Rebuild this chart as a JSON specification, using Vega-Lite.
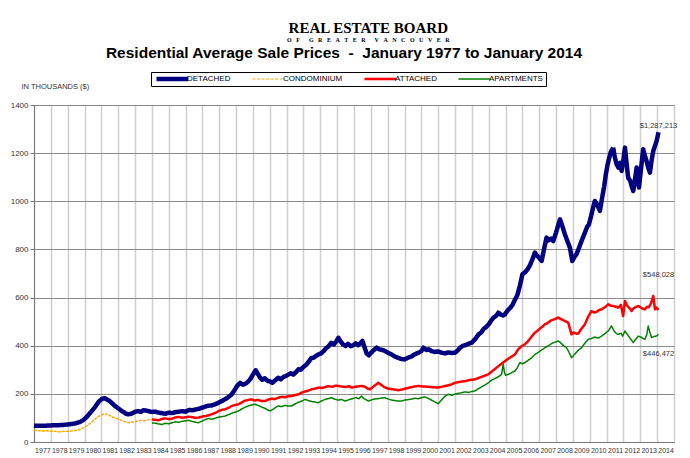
{
  "$schema": "https://vega.github.io/schema/vega-lite/v6.json",
  "background": "white",
  "padding": {"left": 9, "top": 21, "right": 4, "bottom": 4},
  "title": {
    "text": "REAL ESTATE BOARD",
    "subtitle": "O\u00a0\u00a0\u00a0F\u00a0\u00a0\u00a0\u00a0\u00a0\u00a0G\u00a0\u00a0\u00a0R\u00a0\u00a0\u00a0E\u00a0\u00a0\u00a0A\u00a0\u00a0\u00a0T\u00a0\u00a0\u00a0E\u00a0\u00a0\u00a0R\u00a0\u00a0\u00a0\u00a0\u00a0\u00a0V\u00a0\u00a0\u00a0A\u00a0\u00a0\u00a0N\u00a0\u00a0\u00a0C\u00a0\u00a0\u00a0O\u00a0\u00a0\u00a0U\u00a0\u00a0\u00a0V\u00a0\u00a0\u00a0E\u00a0\u00a0\u00a0R",
    "font": "Liberation Serif",
    "fontSize": 15,
    "fontWeight": "bold",
    "color": "#000",
    "subtitleFont": "Liberation Serif",
    "subtitleFontSize": 6,
    "subtitleFontWeight": "bold",
    "subtitleColor": "#000",
    "subtitlePadding": 1,
    "anchor": "middle",
    "offset": 2,
    "dx": 22
  },
  "spacing": 0,
  "datasets": {
    "labels": [
      {"series": "DETACHED", "year": 2014.08, "price": 1287, "label": "$1,287,213"},
      {"series": "ATTACHED", "year": 2014.08, "price": 548, "label": "$548,028"},
      {"series": "APARTMENTS", "year": 2014.08, "price": 447, "label": "$446,472"}
    ],
    "prices": [
      {"series":"DETACHED","year":1977.0,"price":68},{"series":"DETACHED","year":1977.25,"price":67},{"series":"DETACHED","year":1977.5,"price":67},{"series":"DETACHED","year":1977.75,"price":68},{"series":"DETACHED","year":1978.0,"price":69},{"series":"DETACHED","year":1978.25,"price":70},{"series":"DETACHED","year":1978.5,"price":70},{"series":"DETACHED","year":1978.75,"price":71},{"series":"DETACHED","year":1979.0,"price":73},{"series":"DETACHED","year":1979.25,"price":75},{"series":"DETACHED","year":1979.5,"price":78},{"series":"DETACHED","year":1979.75,"price":84},{"series":"DETACHED","year":1979.9,"price":90},{"series":"DETACHED","year":1980.1,"price":102},{"series":"DETACHED","year":1980.3,"price":118},{"series":"DETACHED","year":1980.6,"price":143},{"series":"DETACHED","year":1980.85,"price":168},{"series":"DETACHED","year":1981.05,"price":180},{"series":"DETACHED","year":1981.2,"price":182},{"series":"DETACHED","year":1981.35,"price":176},{"series":"DETACHED","year":1981.5,"price":170},{"series":"DETACHED","year":1981.65,"price":160},{"series":"DETACHED","year":1981.8,"price":150},{"series":"DETACHED","year":1982.0,"price":140},{"series":"DETACHED","year":1982.15,"price":132},{"series":"DETACHED","year":1982.3,"price":125},{"series":"DETACHED","year":1982.45,"price":118},{"series":"DETACHED","year":1982.6,"price":115},{"series":"DETACHED","year":1982.8,"price":118},{"series":"DETACHED","year":1983.0,"price":126},{"series":"DETACHED","year":1983.2,"price":128},{"series":"DETACHED","year":1983.35,"price":125},{"series":"DETACHED","year":1983.5,"price":132},{"series":"DETACHED","year":1983.7,"price":130},{"series":"DETACHED","year":1983.85,"price":127},{"series":"DETACHED","year":1984.0,"price":125},{"series":"DETACHED","year":1984.2,"price":126},{"series":"DETACHED","year":1984.4,"price":122},{"series":"DETACHED","year":1984.6,"price":120},{"series":"DETACHED","year":1984.8,"price":117},{"series":"DETACHED","year":1985.0,"price":122},{"series":"DETACHED","year":1985.2,"price":120},{"series":"DETACHED","year":1985.4,"price":124},{"series":"DETACHED","year":1985.6,"price":126},{"series":"DETACHED","year":1985.8,"price":128},{"series":"DETACHED","year":1986.0,"price":126},{"series":"DETACHED","year":1986.2,"price":133},{"series":"DETACHED","year":1986.4,"price":132},{"series":"DETACHED","year":1986.6,"price":135},{"series":"DETACHED","year":1986.8,"price":138},{"series":"DETACHED","year":1987.0,"price":143},{"series":"DETACHED","year":1987.3,"price":150},{"series":"DETACHED","year":1987.55,"price":152},{"series":"DETACHED","year":1987.8,"price":158},{"series":"DETACHED","year":1988.0,"price":165},{"series":"DETACHED","year":1988.15,"price":170},{"series":"DETACHED","year":1988.3,"price":176},{"series":"DETACHED","year":1988.45,"price":182},{"series":"DETACHED","year":1988.6,"price":190},{"series":"DETACHED","year":1988.74,"price":198},{"series":"DETACHED","year":1988.9,"price":215},{"series":"DETACHED","year":1989.05,"price":232},{"series":"DETACHED","year":1989.24,"price":246},{"series":"DETACHED","year":1989.4,"price":238},{"series":"DETACHED","year":1989.55,"price":242},{"series":"DETACHED","year":1989.7,"price":250},{"series":"DETACHED","year":1989.85,"price":262},{"series":"DETACHED","year":1990.0,"price":280},{"series":"DETACHED","year":1990.16,"price":298},{"series":"DETACHED","year":1990.3,"price":282},{"series":"DETACHED","year":1990.42,"price":268},{"series":"DETACHED","year":1990.55,"price":258},{"series":"DETACHED","year":1990.7,"price":265},{"series":"DETACHED","year":1990.85,"price":255},{"series":"DETACHED","year":1991.0,"price":252},{"series":"DETACHED","year":1991.15,"price":246},{"series":"DETACHED","year":1991.3,"price":255},{"series":"DETACHED","year":1991.5,"price":267},{"series":"DETACHED","year":1991.65,"price":260},{"series":"DETACHED","year":1991.8,"price":270},{"series":"DETACHED","year":1991.95,"price":274},{"series":"DETACHED","year":1992.1,"price":280},{"series":"DETACHED","year":1992.25,"price":286},{"series":"DETACHED","year":1992.4,"price":280},{"series":"DETACHED","year":1992.55,"price":290},{"series":"DETACHED","year":1992.7,"price":302},{"series":"DETACHED","year":1992.85,"price":300},{"series":"DETACHED","year":1993.0,"price":312},{"series":"DETACHED","year":1993.15,"price":320},{"series":"DETACHED","year":1993.3,"price":332},{"series":"DETACHED","year":1993.45,"price":348},{"series":"DETACHED","year":1993.6,"price":350},{"series":"DETACHED","year":1993.75,"price":358},{"series":"DETACHED","year":1993.9,"price":364},{"series":"DETACHED","year":1994.05,"price":368},{"series":"DETACHED","year":1994.2,"price":378},{"series":"DETACHED","year":1994.35,"price":390},{"series":"DETACHED","year":1994.5,"price":398},{"series":"DETACHED","year":1994.65,"price":412},{"series":"DETACHED","year":1994.8,"price":405},{"series":"DETACHED","year":1994.95,"price":418},{"series":"DETACHED","year":1995.07,"price":433},{"series":"DETACHED","year":1995.2,"price":418},{"series":"DETACHED","year":1995.35,"price":405},{"series":"DETACHED","year":1995.5,"price":399},{"series":"DETACHED","year":1995.65,"price":408},{"series":"DETACHED","year":1995.8,"price":398},{"series":"DETACHED","year":1995.95,"price":402},{"series":"DETACHED","year":1996.1,"price":410},{"series":"DETACHED","year":1996.25,"price":402},{"series":"DETACHED","year":1996.4,"price":412},{"series":"DETACHED","year":1996.5,"price":420},{"series":"DETACHED","year":1996.62,"price":395},{"series":"DETACHED","year":1996.75,"price":368},{"series":"DETACHED","year":1996.88,"price":360},{"series":"DETACHED","year":1997.0,"price":370},{"series":"DETACHED","year":1997.15,"price":380},{"series":"DETACHED","year":1997.35,"price":392},{"series":"DETACHED","year":1997.5,"price":385},{"series":"DETACHED","year":1997.7,"price":382},{"series":"DETACHED","year":1997.85,"price":378},{"series":"DETACHED","year":1998.0,"price":371},{"series":"DETACHED","year":1998.2,"price":365},{"series":"DETACHED","year":1998.4,"price":356},{"series":"DETACHED","year":1998.6,"price":350},{"series":"DETACHED","year":1998.8,"price":345},{"series":"DETACHED","year":1999.0,"price":343},{"series":"DETACHED","year":1999.2,"price":350},{"series":"DETACHED","year":1999.4,"price":355},{"series":"DETACHED","year":1999.6,"price":364},{"series":"DETACHED","year":1999.8,"price":370},{"series":"DETACHED","year":2000.0,"price":378},{"series":"DETACHED","year":2000.12,"price":392},{"series":"DETACHED","year":2000.3,"price":382},{"series":"DETACHED","year":2000.45,"price":385},{"series":"DETACHED","year":2000.6,"price":378},{"series":"DETACHED","year":2000.8,"price":374},{"series":"DETACHED","year":2001.0,"price":376},{"series":"DETACHED","year":2001.2,"price":371},{"series":"DETACHED","year":2001.4,"price":368},{"series":"DETACHED","year":2001.6,"price":372},{"series":"DETACHED","year":2001.8,"price":370},{"series":"DETACHED","year":2002.0,"price":371},{"series":"DETACHED","year":2002.15,"price":380},{"series":"DETACHED","year":2002.3,"price":392},{"series":"DETACHED","year":2002.45,"price":399},{"series":"DETACHED","year":2002.6,"price":402},{"series":"DETACHED","year":2002.8,"price":408},{"series":"DETACHED","year":2003.0,"price":413},{"series":"DETACHED","year":2003.2,"price":428},{"series":"DETACHED","year":2003.4,"price":447},{"series":"DETACHED","year":2003.55,"price":455},{"series":"DETACHED","year":2003.7,"price":470},{"series":"DETACHED","year":2003.85,"price":478},{"series":"DETACHED","year":2004.0,"price":489},{"series":"DETACHED","year":2004.15,"price":505},{"series":"DETACHED","year":2004.3,"price":518},{"series":"DETACHED","year":2004.45,"price":525},{"series":"DETACHED","year":2004.57,"price":537},{"series":"DETACHED","year":2004.7,"price":530},{"series":"DETACHED","year":2004.85,"price":526},{"series":"DETACHED","year":2004.96,"price":530},{"series":"DETACHED","year":2005.1,"price":545},{"series":"DETACHED","year":2005.25,"price":555},{"series":"DETACHED","year":2005.4,"price":568},{"series":"DETACHED","year":2005.55,"price":590},{"series":"DETACHED","year":2005.7,"price":610},{"series":"DETACHED","year":2005.85,"price":650},{"series":"DETACHED","year":2006.0,"price":697},{"series":"DETACHED","year":2006.15,"price":705},{"series":"DETACHED","year":2006.3,"price":717},{"series":"DETACHED","year":2006.45,"price":735},{"series":"DETACHED","year":2006.6,"price":760},{"series":"DETACHED","year":2006.74,"price":787},{"series":"DETACHED","year":2006.85,"price":775},{"series":"DETACHED","year":2007.0,"price":765},{"series":"DETACHED","year":2007.14,"price":752},{"series":"DETACHED","year":2007.28,"price":800},{"series":"DETACHED","year":2007.43,"price":849},{"series":"DETACHED","year":2007.55,"price":838},{"series":"DETACHED","year":2007.7,"price":845},{"series":"DETACHED","year":2007.83,"price":835},{"series":"DETACHED","year":2008.0,"price":870},{"series":"DETACHED","year":2008.12,"price":900},{"series":"DETACHED","year":2008.23,"price":925},{"series":"DETACHED","year":2008.38,"price":895},{"series":"DETACHED","year":2008.52,"price":863},{"series":"DETACHED","year":2008.67,"price":835},{"series":"DETACHED","year":2008.82,"price":807},{"series":"DETACHED","year":2008.96,"price":752},{"series":"DETACHED","year":2009.1,"price":770},{"series":"DETACHED","year":2009.21,"price":780},{"series":"DETACHED","year":2009.35,"price":805},{"series":"DETACHED","year":2009.51,"price":835},{"series":"DETACHED","year":2009.7,"price":868},{"series":"DETACHED","year":2009.85,"price":895},{"series":"DETACHED","year":2009.95,"price":904},{"series":"DETACHED","year":2010.1,"price":945},{"series":"DETACHED","year":2010.2,"price":975},{"series":"DETACHED","year":2010.3,"price":1001},{"series":"DETACHED","year":2010.45,"price":985},{"series":"DETACHED","year":2010.6,"price":960},{"series":"DETACHED","year":2010.72,"price":1010},{"series":"DETACHED","year":2010.85,"price":1060},{"series":"DETACHED","year":2010.95,"price":1110},{"series":"DETACHED","year":2011.05,"price":1150},{"series":"DETACHED","year":2011.15,"price":1180},{"series":"DETACHED","year":2011.25,"price":1205},{"series":"DETACHED","year":2011.39,"price":1223},{"series":"DETACHED","year":2011.48,"price":1185},{"series":"DETACHED","year":2011.59,"price":1154},{"series":"DETACHED","year":2011.7,"price":1140},{"series":"DETACHED","year":2011.8,"price":1160},{"series":"DETACHED","year":2011.89,"price":1126},{"series":"DETACHED","year":2012.0,"price":1175},{"series":"DETACHED","year":2012.09,"price":1223},{"series":"DETACHED","year":2012.18,"price":1160},{"series":"DETACHED","year":2012.28,"price":1098},{"series":"DETACHED","year":2012.4,"price":1085},{"series":"DETACHED","year":2012.5,"price":1060},{"series":"DETACHED","year":2012.58,"price":1043},{"series":"DETACHED","year":2012.68,"price":1090},{"series":"DETACHED","year":2012.78,"price":1140},{"series":"DETACHED","year":2012.85,"price":1100},{"series":"DETACHED","year":2012.92,"price":1057},{"series":"DETACHED","year":2013.05,"price":1140},{"series":"DETACHED","year":2013.17,"price":1216},{"series":"DETACHED","year":2013.27,"price":1190},{"series":"DETACHED","year":2013.37,"price":1167},{"series":"DETACHED","year":2013.47,"price":1140},{"series":"DETACHED","year":2013.57,"price":1119},{"series":"DETACHED","year":2013.67,"price":1170},{"series":"DETACHED","year":2013.77,"price":1209},{"series":"DETACHED","year":2013.87,"price":1230},{"series":"DETACHED","year":2013.97,"price":1251},{"series":"DETACHED","year":2014.08,"price":1287},
      {"series":"CONDOMINIUM","year":1977.0,"price":49},{"series":"CONDOMINIUM","year":1977.25,"price":47},{"series":"CONDOMINIUM","year":1977.5,"price":46},{"series":"CONDOMINIUM","year":1977.75,"price":47},{"series":"CONDOMINIUM","year":1978.0,"price":45},{"series":"CONDOMINIUM","year":1978.25,"price":44},{"series":"CONDOMINIUM","year":1978.5,"price":42},{"series":"CONDOMINIUM","year":1978.75,"price":44},{"series":"CONDOMINIUM","year":1979.0,"price":44},{"series":"CONDOMINIUM","year":1979.25,"price":46},{"series":"CONDOMINIUM","year":1979.5,"price":48},{"series":"CONDOMINIUM","year":1979.75,"price":53},{"series":"CONDOMINIUM","year":1979.94,"price":59},{"series":"CONDOMINIUM","year":1980.15,"price":68},{"series":"CONDOMINIUM","year":1980.35,"price":78},{"series":"CONDOMINIUM","year":1980.6,"price":94},{"series":"CONDOMINIUM","year":1980.8,"price":105},{"series":"CONDOMINIUM","year":1981.0,"price":112},{"series":"CONDOMINIUM","year":1981.2,"price":118},{"series":"CONDOMINIUM","year":1981.35,"price":114},{"series":"CONDOMINIUM","year":1981.5,"price":110},{"series":"CONDOMINIUM","year":1981.65,"price":104},{"series":"CONDOMINIUM","year":1981.8,"price":101},{"series":"CONDOMINIUM","year":1982.0,"price":95},{"series":"CONDOMINIUM","year":1982.2,"price":90},{"series":"CONDOMINIUM","year":1982.4,"price":84},{"series":"CONDOMINIUM","year":1982.6,"price":80},{"series":"CONDOMINIUM","year":1982.8,"price":82},{"series":"CONDOMINIUM","year":1983.0,"price":84},{"series":"CONDOMINIUM","year":1983.2,"price":88},{"series":"CONDOMINIUM","year":1983.4,"price":90},{"series":"CONDOMINIUM","year":1983.6,"price":88},{"series":"CONDOMINIUM","year":1983.8,"price":92},{"series":"CONDOMINIUM","year":1983.95,"price":94},
      {"series":"ATTACHED","year":1984.0,"price":94},{"series":"ATTACHED","year":1984.2,"price":92},{"series":"ATTACHED","year":1984.4,"price":90},{"series":"ATTACHED","year":1984.6,"price":96},{"series":"ATTACHED","year":1984.8,"price":98},{"series":"ATTACHED","year":1985.0,"price":95},{"series":"ATTACHED","year":1985.2,"price":97},{"series":"ATTACHED","year":1985.4,"price":102},{"series":"ATTACHED","year":1985.6,"price":104},{"series":"ATTACHED","year":1985.8,"price":101},{"series":"ATTACHED","year":1986.0,"price":103},{"series":"ATTACHED","year":1986.2,"price":105},{"series":"ATTACHED","year":1986.4,"price":103},{"series":"ATTACHED","year":1986.6,"price":100},{"series":"ATTACHED","year":1986.8,"price":102},{"series":"ATTACHED","year":1987.0,"price":106},{"series":"ATTACHED","year":1987.2,"price":108},{"series":"ATTACHED","year":1987.4,"price":112},{"series":"ATTACHED","year":1987.55,"price":115},{"series":"ATTACHED","year":1987.8,"price":122},{"series":"ATTACHED","year":1988.0,"price":130},{"series":"ATTACHED","year":1988.2,"price":134},{"series":"ATTACHED","year":1988.35,"price":136},{"series":"ATTACHED","year":1988.55,"price":142},{"series":"ATTACHED","year":1988.75,"price":150},{"series":"ATTACHED","year":1988.95,"price":154},{"series":"ATTACHED","year":1989.14,"price":157},{"series":"ATTACHED","year":1989.35,"price":165},{"series":"ATTACHED","year":1989.55,"price":172},{"series":"ATTACHED","year":1989.75,"price":175},{"series":"ATTACHED","year":1989.93,"price":177},{"series":"ATTACHED","year":1990.1,"price":172},{"series":"ATTACHED","year":1990.3,"price":175},{"series":"ATTACHED","year":1990.5,"price":170},{"series":"ATTACHED","year":1990.72,"price":170},{"series":"ATTACHED","year":1990.9,"price":176},{"series":"ATTACHED","year":1991.1,"price":180},{"series":"ATTACHED","year":1991.3,"price":178},{"series":"ATTACHED","year":1991.51,"price":184},{"series":"ATTACHED","year":1991.7,"price":188},{"series":"ATTACHED","year":1991.9,"price":186},{"series":"ATTACHED","year":1992.1,"price":190},{"series":"ATTACHED","year":1992.3,"price":191},{"series":"ATTACHED","year":1992.5,"price":195},{"series":"ATTACHED","year":1992.7,"price":198},{"series":"ATTACHED","year":1992.9,"price":205},{"series":"ATTACHED","year":1993.1,"price":210},{"series":"ATTACHED","year":1993.3,"price":214},{"series":"ATTACHED","year":1993.49,"price":219},{"series":"ATTACHED","year":1993.7,"price":222},{"series":"ATTACHED","year":1993.9,"price":226},{"series":"ATTACHED","year":1994.1,"price":224},{"series":"ATTACHED","year":1994.28,"price":228},{"series":"ATTACHED","year":1994.5,"price":232},{"series":"ATTACHED","year":1994.7,"price":229},{"series":"ATTACHED","year":1994.9,"price":234},{"series":"ATTACHED","year":1995.07,"price":233},{"series":"ATTACHED","year":1995.3,"price":230},{"series":"ATTACHED","year":1995.5,"price":228},{"series":"ATTACHED","year":1995.7,"price":232},{"series":"ATTACHED","year":1995.86,"price":226},{"series":"ATTACHED","year":1996.05,"price":229},{"series":"ATTACHED","year":1996.25,"price":231},{"series":"ATTACHED","year":1996.45,"price":233},{"series":"ATTACHED","year":1996.65,"price":230},{"series":"ATTACHED","year":1996.8,"price":222},{"series":"ATTACHED","year":1996.95,"price":219},{"series":"ATTACHED","year":1997.15,"price":230},{"series":"ATTACHED","year":1997.3,"price":238},{"series":"ATTACHED","year":1997.44,"price":246},{"series":"ATTACHED","year":1997.6,"price":238},{"series":"ATTACHED","year":1997.8,"price":228},{"series":"ATTACHED","year":1998.0,"price":222},{"series":"ATTACHED","year":1998.2,"price":220},{"series":"ATTACHED","year":1998.4,"price":218},{"series":"ATTACHED","year":1998.63,"price":215},{"series":"ATTACHED","year":1998.85,"price":218},{"series":"ATTACHED","year":1999.05,"price":222},{"series":"ATTACHED","year":1999.3,"price":226},{"series":"ATTACHED","year":1999.55,"price":230},{"series":"ATTACHED","year":1999.82,"price":233},{"series":"ATTACHED","year":2000.05,"price":231},{"series":"ATTACHED","year":2000.3,"price":230},{"series":"ATTACHED","year":2000.6,"price":228},{"series":"ATTACHED","year":2000.8,"price":227},{"series":"ATTACHED","year":2001.0,"price":226},{"series":"ATTACHED","year":2001.25,"price":230},{"series":"ATTACHED","year":2001.5,"price":234},{"series":"ATTACHED","year":2001.75,"price":238},{"series":"ATTACHED","year":2002.0,"price":246},{"series":"ATTACHED","year":2002.3,"price":250},{"series":"ATTACHED","year":2002.6,"price":253},{"series":"ATTACHED","year":2002.9,"price":258},{"series":"ATTACHED","year":2003.18,"price":260},{"series":"ATTACHED","year":2003.4,"price":266},{"series":"ATTACHED","year":2003.7,"price":274},{"series":"ATTACHED","year":2003.97,"price":281},{"series":"ATTACHED","year":2004.2,"price":294},{"series":"ATTACHED","year":2004.45,"price":308},{"series":"ATTACHED","year":2004.76,"price":325},{"series":"ATTACHED","year":2005.0,"price":338},{"series":"ATTACHED","year":2005.3,"price":352},{"series":"ATTACHED","year":2005.56,"price":364},{"series":"ATTACHED","year":2005.75,"price":385},{"series":"ATTACHED","year":2005.95,"price":398},{"series":"ATTACHED","year":2006.15,"price":406},{"series":"ATTACHED","year":2006.35,"price":420},{"series":"ATTACHED","year":2006.55,"price":438},{"series":"ATTACHED","year":2006.74,"price":454},{"series":"ATTACHED","year":2006.9,"price":462},{"series":"ATTACHED","year":2007.05,"price":472},{"series":"ATTACHED","year":2007.2,"price":480},{"series":"ATTACHED","year":2007.34,"price":489},{"series":"ATTACHED","year":2007.5,"price":495},{"series":"ATTACHED","year":2007.7,"price":505},{"series":"ATTACHED","year":2007.9,"price":510},{"series":"ATTACHED","year":2008.13,"price":517},{"series":"ATTACHED","year":2008.3,"price":510},{"series":"ATTACHED","year":2008.45,"price":505},{"series":"ATTACHED","year":2008.6,"price":500},{"series":"ATTACHED","year":2008.72,"price":496},{"series":"ATTACHED","year":2008.82,"price":470},{"series":"ATTACHED","year":2008.92,"price":447},{"series":"ATTACHED","year":2009.05,"price":455},{"series":"ATTACHED","year":2009.2,"price":450},{"series":"ATTACHED","year":2009.32,"price":451},{"series":"ATTACHED","year":2009.5,"price":470},{"series":"ATTACHED","year":2009.71,"price":489},{"series":"ATTACHED","year":2009.9,"price":520},{"series":"ATTACHED","year":2010.1,"price":544},{"series":"ATTACHED","year":2010.25,"price":538},{"series":"ATTACHED","year":2010.4,"price":540},{"series":"ATTACHED","year":2010.55,"price":548},{"series":"ATTACHED","year":2010.7,"price":551},{"series":"ATTACHED","year":2010.9,"price":560},{"series":"ATTACHED","year":2011.1,"price":572},{"series":"ATTACHED","year":2011.25,"price":566},{"series":"ATTACHED","year":2011.4,"price":565},{"series":"ATTACHED","year":2011.55,"price":562},{"series":"ATTACHED","year":2011.69,"price":558},{"series":"ATTACHED","year":2011.85,"price":570},{"series":"ATTACHED","year":2011.98,"price":523},{"series":"ATTACHED","year":2012.09,"price":586},{"series":"ATTACHED","year":2012.2,"price":568},{"series":"ATTACHED","year":2012.35,"price":556},{"series":"ATTACHED","year":2012.48,"price":544},{"series":"ATTACHED","year":2012.6,"price":555},{"series":"ATTACHED","year":2012.7,"price":560},{"series":"ATTACHED","year":2012.88,"price":565},{"series":"ATTACHED","year":2013.0,"price":560},{"series":"ATTACHED","year":2013.1,"price":555},{"series":"ATTACHED","year":2013.27,"price":551},{"series":"ATTACHED","year":2013.4,"price":562},{"series":"ATTACHED","year":2013.5,"price":560},{"series":"ATTACHED","year":2013.63,"price":575},{"series":"ATTACHED","year":2013.77,"price":607},{"series":"ATTACHED","year":2013.87,"price":551},{"series":"ATTACHED","year":2013.97,"price":558},{"series":"ATTACHED","year":2014.08,"price":548},
      {"series":"APARTMENTS","year":1984.0,"price":80},{"series":"APARTMENTS","year":1984.2,"price":78},{"series":"APARTMENTS","year":1984.4,"price":75},{"series":"APARTMENTS","year":1984.6,"price":73},{"series":"APARTMENTS","year":1984.8,"price":78},{"series":"APARTMENTS","year":1985.0,"price":76},{"series":"APARTMENTS","year":1985.2,"price":80},{"series":"APARTMENTS","year":1985.4,"price":84},{"series":"APARTMENTS","year":1985.6,"price":82},{"series":"APARTMENTS","year":1985.8,"price":86},{"series":"APARTMENTS","year":1986.0,"price":88},{"series":"APARTMENTS","year":1986.2,"price":90},{"series":"APARTMENTS","year":1986.4,"price":85},{"series":"APARTMENTS","year":1986.6,"price":82},{"series":"APARTMENTS","year":1986.76,"price":80},{"series":"APARTMENTS","year":1987.0,"price":88},{"series":"APARTMENTS","year":1987.2,"price":94},{"series":"APARTMENTS","year":1987.36,"price":98},{"series":"APARTMENTS","year":1987.55,"price":94},{"series":"APARTMENTS","year":1987.8,"price":100},{"series":"APARTMENTS","year":1988.0,"price":104},{"series":"APARTMENTS","year":1988.2,"price":106},{"series":"APARTMENTS","year":1988.35,"price":108},{"series":"APARTMENTS","year":1988.6,"price":115},{"series":"APARTMENTS","year":1988.85,"price":122},{"series":"APARTMENTS","year":1989.14,"price":129},{"series":"APARTMENTS","year":1989.35,"price":138},{"series":"APARTMENTS","year":1989.55,"price":145},{"series":"APARTMENTS","year":1989.75,"price":150},{"series":"APARTMENTS","year":1990.0,"price":155},{"series":"APARTMENTS","year":1990.13,"price":157},{"series":"APARTMENTS","year":1990.3,"price":152},{"series":"APARTMENTS","year":1990.5,"price":146},{"series":"APARTMENTS","year":1990.7,"price":140},{"series":"APARTMENTS","year":1990.85,"price":134},{"series":"APARTMENTS","year":1991.02,"price":129},{"series":"APARTMENTS","year":1991.2,"price":136},{"series":"APARTMENTS","year":1991.35,"price":144},{"series":"APARTMENTS","year":1991.51,"price":150},{"series":"APARTMENTS","year":1991.7,"price":147},{"series":"APARTMENTS","year":1991.9,"price":152},{"series":"APARTMENTS","year":1992.1,"price":149},{"series":"APARTMENTS","year":1992.3,"price":150},{"series":"APARTMENTS","year":1992.5,"price":158},{"series":"APARTMENTS","year":1992.7,"price":165},{"series":"APARTMENTS","year":1992.9,"price":170},{"series":"APARTMENTS","year":1993.09,"price":177},{"series":"APARTMENTS","year":1993.3,"price":172},{"series":"APARTMENTS","year":1993.5,"price":168},{"series":"APARTMENTS","year":1993.7,"price":166},{"series":"APARTMENTS","year":1993.88,"price":163},{"series":"APARTMENTS","year":1994.05,"price":170},{"series":"APARTMENTS","year":1994.25,"price":176},{"series":"APARTMENTS","year":1994.45,"price":180},{"series":"APARTMENTS","year":1994.67,"price":184},{"series":"APARTMENTS","year":1994.85,"price":178},{"series":"APARTMENTS","year":1995.05,"price":174},{"series":"APARTMENTS","year":1995.25,"price":177},{"series":"APARTMENTS","year":1995.47,"price":170},{"series":"APARTMENTS","year":1995.7,"price":176},{"series":"APARTMENTS","year":1995.9,"price":180},{"series":"APARTMENTS","year":1996.1,"price":184},{"series":"APARTMENTS","year":1996.3,"price":180},{"series":"APARTMENTS","year":1996.45,"price":191},{"series":"APARTMENTS","year":1996.6,"price":180},{"series":"APARTMENTS","year":1996.85,"price":170},{"series":"APARTMENTS","year":1997.05,"price":175},{"series":"APARTMENTS","year":1997.25,"price":179},{"series":"APARTMENTS","year":1997.44,"price":180},{"series":"APARTMENTS","year":1997.65,"price":183},{"series":"APARTMENTS","year":1997.84,"price":184},{"series":"APARTMENTS","year":1998.05,"price":178},{"series":"APARTMENTS","year":1998.25,"price":174},{"series":"APARTMENTS","year":1998.45,"price":172},{"series":"APARTMENTS","year":1998.63,"price":170},{"series":"APARTMENTS","year":1998.83,"price":170},{"series":"APARTMENTS","year":1999.0,"price":174},{"series":"APARTMENTS","year":1999.2,"price":176},{"series":"APARTMENTS","year":1999.4,"price":178},{"series":"APARTMENTS","year":1999.6,"price":182},{"series":"APARTMENTS","year":1999.8,"price":180},{"series":"APARTMENTS","year":2000.0,"price":184},{"series":"APARTMENTS","year":2000.22,"price":187},{"series":"APARTMENTS","year":2000.45,"price":180},{"series":"APARTMENTS","year":2000.65,"price":172},{"series":"APARTMENTS","year":2000.85,"price":165},{"series":"APARTMENTS","year":2001.0,"price":159},{"series":"APARTMENTS","year":2001.2,"price":175},{"series":"APARTMENTS","year":2001.4,"price":190},{"series":"APARTMENTS","year":2001.6,"price":198},{"series":"APARTMENTS","year":2001.8,"price":194},{"series":"APARTMENTS","year":2002.0,"price":199},{"series":"APARTMENTS","year":2002.2,"price":202},{"series":"APARTMENTS","year":2002.39,"price":205},{"series":"APARTMENTS","year":2002.6,"price":208},{"series":"APARTMENTS","year":2002.8,"price":206},{"series":"APARTMENTS","year":2003.0,"price":210},{"series":"APARTMENTS","year":2003.18,"price":212},{"series":"APARTMENTS","year":2003.4,"price":222},{"series":"APARTMENTS","year":2003.6,"price":230},{"series":"APARTMENTS","year":2003.8,"price":238},{"series":"APARTMENTS","year":2003.97,"price":246},{"series":"APARTMENTS","year":2004.2,"price":258},{"series":"APARTMENTS","year":2004.4,"price":265},{"series":"APARTMENTS","year":2004.6,"price":272},{"series":"APARTMENTS","year":2004.76,"price":281},{"series":"APARTMENTS","year":2004.86,"price":323},{"series":"APARTMENTS","year":2004.93,"price":290},{"series":"APARTMENTS","year":2005.0,"price":277},{"series":"APARTMENTS","year":2005.2,"price":282},{"series":"APARTMENTS","year":2005.4,"price":290},{"series":"APARTMENTS","year":2005.56,"price":295},{"series":"APARTMENTS","year":2005.7,"price":309},{"series":"APARTMENTS","year":2005.85,"price":330},{"series":"APARTMENTS","year":2006.0,"price":325},{"series":"APARTMENTS","year":2006.15,"price":330},{"series":"APARTMENTS","year":2006.35,"price":340},{"series":"APARTMENTS","year":2006.55,"price":350},{"series":"APARTMENTS","year":2006.74,"price":364},{"series":"APARTMENTS","year":2006.9,"price":370},{"series":"APARTMENTS","year":2007.05,"price":378},{"series":"APARTMENTS","year":2007.2,"price":385},{"series":"APARTMENTS","year":2007.34,"price":392},{"series":"APARTMENTS","year":2007.55,"price":400},{"series":"APARTMENTS","year":2007.75,"price":410},{"series":"APARTMENTS","year":2007.95,"price":415},{"series":"APARTMENTS","year":2008.13,"price":420},{"series":"APARTMENTS","year":2008.3,"price":410},{"series":"APARTMENTS","year":2008.45,"price":400},{"series":"APARTMENTS","year":2008.62,"price":392},{"series":"APARTMENTS","year":2008.75,"price":375},{"series":"APARTMENTS","year":2008.92,"price":350},{"series":"APARTMENTS","year":2009.1,"price":365},{"series":"APARTMENTS","year":2009.3,"price":380},{"series":"APARTMENTS","year":2009.51,"price":392},{"series":"APARTMENTS","year":2009.7,"price":410},{"series":"APARTMENTS","year":2009.91,"price":427},{"series":"APARTMENTS","year":2010.1,"price":430},{"series":"APARTMENTS","year":2010.3,"price":436},{"series":"APARTMENTS","year":2010.5,"price":432},{"series":"APARTMENTS","year":2010.7,"price":440},{"series":"APARTMENTS","year":2010.9,"price":450},{"series":"APARTMENTS","year":2011.1,"price":462},{"series":"APARTMENTS","year":2011.29,"price":482},{"series":"APARTMENTS","year":2011.45,"price":460},{"series":"APARTMENTS","year":2011.59,"price":450},{"series":"APARTMENTS","year":2011.69,"price":447},{"series":"APARTMENTS","year":2011.85,"price":452},{"series":"APARTMENTS","year":2011.95,"price":440},{"series":"APARTMENTS","year":2012.09,"price":461},{"series":"APARTMENTS","year":2012.25,"price":445},{"series":"APARTMENTS","year":2012.4,"price":430},{"series":"APARTMENTS","year":2012.58,"price":413},{"series":"APARTMENTS","year":2012.7,"price":425},{"series":"APARTMENTS","year":2012.88,"price":440},{"series":"APARTMENTS","year":2013.05,"price":435},{"series":"APARTMENTS","year":2013.15,"price":430},{"series":"APARTMENTS","year":2013.27,"price":427},{"series":"APARTMENTS","year":2013.38,"price":445},{"series":"APARTMENTS","year":2013.47,"price":482},{"series":"APARTMENTS","year":2013.57,"price":455},{"series":"APARTMENTS","year":2013.67,"price":434},{"series":"APARTMENTS","year":2013.8,"price":438},{"series":"APARTMENTS","year":2013.95,"price":440},{"series":"APARTMENTS","year":2014.08,"price":447}
    ]
  },
  "vconcat": [
    {
      "width": 640,
      "height": 337,
      "title": {
        "text": "Residential Average Sale Prices\u00a0\u00a0-\u00a0\u00a0January 1977 to January 2014",
        "font": "Liberation Sans",
        "fontSize": 15.5,
        "fontWeight": "bold",
        "color": "#000",
        "anchor": "middle",
        "offset": 21,
        "dx": -10
      },
      "encoding": {
        "x": {
          "field": "year",
          "type": "quantitative",
          "scale": {"domain": [1977, 2015], "nice": false, "zero": false},
          "axis": {
            "title": null,
            "values": [1977,1978,1979,1980,1981,1982,1983,1984,1985,1986,1987,1988,1989,1990,1991,1992,1993,1994,1995,1996,1997,1998,1999,2000,2001,2002,2003,2004,2005,2006,2007,2008,2009,2010,2011,2012,2013,2014,2015],
            "format": "d",
            "labelExpr": "datum.value == 2015 ? '' : datum.label",
            "labelOffset": 8.4,
            "labelOverlap": false,
            "labelFlush": false,
            "labelFont": "Liberation Sans",
            "labelFontSize": 7,
            "labelColor": "#333",
            "labelPadding": 4,
            "labelAngle": 0,
            "labelBound": false,
            "ticks": false,
            "grid": true,
            "gridColor": "#cfcfcf",
            "gridWidth": 1.5,
            "domainColor": "#777"
          }
        },
        "y": {
          "field": "price",
          "type": "quantitative",
          "scale": {"domain": [0, 1400], "nice": false},
          "axis": {
            "title": "IN THOUSANDS ($)",
            "titleAngle": 0,
            "titleAlign": "left",
            "titleBaseline": "middle",
            "titleAnchor": "end",
            "titleX": -13,
            "titleY": -19,
            "titleFont": "Liberation Sans",
            "titleFontSize": 7.5,
            "titleFontWeight": "normal",
            "titleColor": "#333",
            "values": [0,200,400,600,800,1000,1200,1400],
            "format": "d",
            "labelFont": "Liberation Sans",
            "labelFontSize": 8,
            "labelColor": "#333",
            "labelPadding": 2,
            "tickSize": 4,
            "tickColor": "#777",
            "domainColor": "#777",
            "grid": true,
            "gridColor": "#8a8a8a",
            "gridWidth": 1
          }
        }
      },
      "layer": [
        {
          "data": {"name": "prices"},
          "mark": {"type": "line", "strokeJoin": "round", "strokeCap": "butt"},
          "encoding": {
            "color": {
              "field": "series",
              "type": "nominal",
              "scale": {"domain": ["DETACHED", "CONDOMINIUM", "ATTACHED", "APARTMENTS"], "range": ["#000080", "#FFA500", "#FF0000", "#008000"]},
              "legend": {
                "title": null,
                "orient": "none",
                "legendX": 117,
                "legendY": -33,
                "direction": "horizontal",
                "symbolType": "M-0.5,0H10",
                "symbolSize": 36,
                "clipHeight": 8,
                "labelOffset": 25,
                "columnPadding": 19,
                "rowPadding": 0,
                "labelFont": "Liberation Sans",
                "labelFontSize": 8,
                "labelColor": "#000",
                "strokeColor": "#000",
                "fillColor": "#fff",
                "padding": 3,
                "encode": {
                  "symbols": {
                    "update": {
                      "strokeWidth": {"signal": "datum.value === 'DETACHED' ? 4.5 : datum.value === 'ATTACHED' ? 2.5 : datum.value === 'APARTMENTS' ? 1.5 : 1.2"},
                      "strokeDash": {"signal": "datum.value === 'CONDOMINIUM' ? [3, 1.5] : [1, 0]"}
                    }
                  }
                }
              }
            },
            "strokeWidth": {
              "condition": [
                {"test": "datum.series === 'DETACHED'", "value": 4.5},
                {"test": "datum.series === 'ATTACHED'", "value": 2.5},
                {"test": "datum.series === 'APARTMENTS'", "value": 1.5}
              ],
              "value": 1.4
            },
            "strokeDash": {
              "condition": {"test": "datum.series === 'CONDOMINIUM'", "value": [3, 1]},
              "value": [1, 0]
            }
          }
        },
        {
          "data": {"name": "labels"},
          "transform": [{"filter": "datum.series == 'DETACHED'"}],
          "mark": {"type": "text", "font": "Liberation Sans", "fontSize": 7.5, "color": "#333", "align": "center", "baseline": "bottom", "dy": -2},
          "encoding": {"text": {"field": "label"}}
        },
        {
          "data": {"name": "labels"},
          "transform": [{"filter": "datum.series == 'ATTACHED'"}],
          "mark": {"type": "text", "font": "Liberation Sans", "fontSize": 7.5, "color": "#333", "align": "center", "baseline": "middle", "dy": -35},
          "encoding": {"text": {"field": "label"}}
        },
        {
          "data": {"name": "labels"},
          "transform": [{"filter": "datum.series == 'APARTMENTS'"}],
          "mark": {"type": "text", "font": "Liberation Sans", "fontSize": 7.5, "color": "#333", "align": "center", "baseline": "middle", "dy": 20},
          "encoding": {"text": {"field": "label"}}
        }
      ]
    }
  ],
  "config": {
    "view": {"stroke": "#999", "strokeWidth": 1},
    "font": "Liberation Sans"
  }
}
